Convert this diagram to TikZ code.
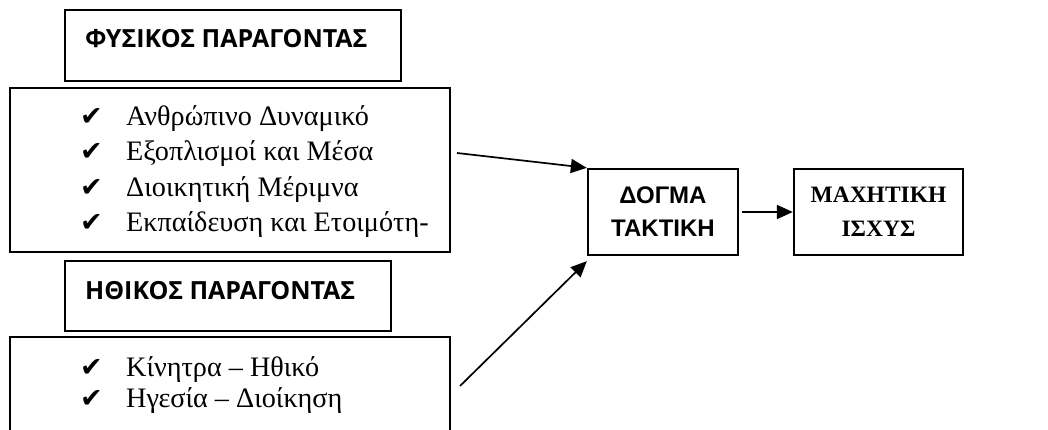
\documentclass[tikz,border=0pt]{standalone}
\usepackage{fontspec}
\setmainfont{Liberation Serif}
\newfontfamily\hdrfont{Open Sans}
\newfontfamily\arialfont{Liberation Sans}
\newfontfamily\symfont{DejaVu Sans}
\usetikzlibrary{arrows.meta,positioning}

\newcommand{\chk}{\makebox[46pt][l]{\symfont\fontsize{27}{30}\selectfont ✔}}

\tikzset{
  box/.style={draw, line width=2.3pt, inner sep=0pt},
  hdr/.style={inner sep=0pt, anchor=base west, font=\hdrfont\bfseries\fontsize{25}{30}\selectfont},
  item/.style={inner sep=0pt, anchor=base west, font=\fontsize{28.2}{30}\selectfont},
  link/.style={line width=1.7pt, -{Triangle[length=16pt,width=14pt]}}
}

\begin{document}
\begin{tikzpicture}[x=1pt, y=-1pt]
    \clip (0,0) rectangle (1048,430);

    % Physical factor
    \node[box, minimum width=336pt, minimum height=71pt] (fyshdr) at (233,45.5) {};
    \node[hdr] (fyslabel) at (85,48) {ΦΥΣΙΚΟΣ ΠΑΡΑΓΟΝΤΑΣ};
    \node[box, minimum width=440pt, minimum height=164pt] (fyslist) at (230,170) {};
    \node[item] (fys1) at (80,126) {\chk Ανθρώπινο Δυναμικό};
    \node[item] (fys2) at (80,161) {\chk Εξοπλισμοί και Μέσα};
    \node[item] (fys3) at (80,197) {\chk Διοικητική Μέριμνα};
    \node[item] (fys4) at (80,232) {\chk Εκπαίδευση και Ετοιμότη-};

    % Moral factor
    \node[box, minimum width=326pt, minimum height=70pt] (ithhdr) at (228,296) {};
    \node[hdr] (ithlabel) at (85,299) {ΗΘΙΚΟΣ ΠΑΡΑΓΟΝΤΑΣ};
    \node[box, minimum width=440pt, minimum height=110pt] (ithlist) at (230,392) {};
    \node[item] (ith1) at (80,376) {\chk Κίνητρα – Ηθικό};
    \node[item] (ith2) at (80,407) {\chk Ηγεσία – Διοίκηση};

    % Doctrine and combat power
    \node[box, minimum width=150pt, minimum height=86pt, align=center,
          font=\arialfont\bfseries\fontsize{24}{33}\selectfont] (dogma) at (663,212) {ΔΟΓΜΑ\\ΤΑΚΤΙΚΗ};
    \node[box, minimum width=169pt, minimum height=86pt, align=center,
          font=\bfseries\fontsize{23.5}{34}\selectfont] (maxi) at (878.5,212) {ΜΑΧΗΤΙΚΗ\\ΙΣΧΥΣ};

    % Arrows
    \coordinate (fysout) at (457,153);
    \coordinate (ithout) at (460,386);
    \draw[link] (fysout) -- (dogma.north west);
    \draw[link] (ithout) -- ([yshift=-5pt]dogma.south west);
    \draw[link, shorten <=3pt] (dogma) -- (maxi);

\end{tikzpicture}
\end{document}
